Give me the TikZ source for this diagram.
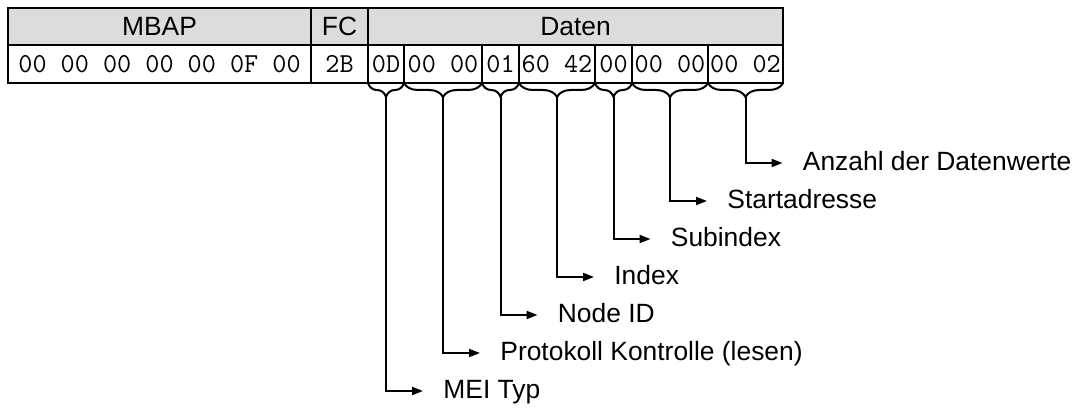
\documentclass[tikz,border=0pt]{standalone}
\usepackage{fontspec}
\setmainfont{Liberation Sans}
\usepackage{xcolor}
\definecolor{kopfgrau}{RGB}{220,220,220}
\usetikzlibrary{positioning, arrows.meta, decorations.pathreplacing}

\begin{document}
\begin{tikzpicture}[
    x=0.5pt, y=-0.5pt,
    node distance=0pt,
    feld/.style={
      rectangle, draw, line width=1pt,
      outer sep=0pt, inner sep=0pt,
      minimum height=18.75pt
    },
    kopf/.style={feld, fill=kopfgrau, font=\fontsize{13.2}{15}\selectfont},
    hex/.style={feld, font=\ttfamily\fontsize{13.7}{15}\selectfont},
    klammer/.style={decorate, decoration={brace, amplitude=7pt}, line width=1pt},
    arrow/.style={-{Triangle[length=5.5pt, width=4pt]}, line width=1pt, shorten >=10pt},
    lbl/.style={anchor=west, inner sep=0pt, text height=0.72em, text depth=0pt,
      font=\fontsize{13.2}{15}\selectfont}
  ]
  \useasboundingbox (0,0) rectangle (1080,410);

  % Kopfzeile
  \node[kopf, minimum width=151.5pt, anchor=north west] (mbap) at (8,8) {MBAP};
  \node[kopf, minimum width=28.5pt, right=of mbap]  (fc)    {FC};
  \node[kopf, minimum width=207.5pt, right=of fc]   (daten) {Daten};

  % Datenzeile
  \node[hex, minimum width=151.5pt, below=of mbap] (h0) {00 00 00 00 00 0F 00};
  \node[hex, minimum width=28.5pt, right=of h0] (h1) {2B};
  \node[hex, minimum width=18pt,   right=of h1] (d0) {0D};
  \node[hex, minimum width=39pt,   right=of d0] (d1) {00 00};
  \node[hex, minimum width=18.5pt, right=of d1] (d2) {01};
  \node[hex, minimum width=38pt,   right=of d2] (d3) {60 42};
  \node[hex, minimum width=18.5pt, right=of d3] (d4) {00};
  \node[hex, minimum width=38pt,   right=of d4] (d5) {00 00};
  \node[hex, minimum width=37.5pt, right=of d5] (d6) {00 02};

  % Klammern
  \draw[klammer] (d0.south east) -- (d0.south west);
  \draw[klammer] (d1.south east) -- (d1.south west);
  \draw[klammer] (d2.south east) -- (d2.south west);
  \draw[klammer] (d3.south east) -- (d3.south west);
  \draw[klammer] (d4.south east) -- (d4.south west);
  \draw[klammer] (d5.south east) -- (d5.south west);
  \draw[klammer] (d6.south east) -- (d6.south west);

  \coordinate (s0) at ([yshift=-7pt]d0.south);
  \coordinate (s1) at ([yshift=-7pt]d1.south);
  \coordinate (s2) at ([yshift=-7pt]d2.south);
  \coordinate (s3) at ([yshift=-7pt]d3.south);
  \coordinate (s4) at ([yshift=-7pt]d4.south);
  \coordinate (s5) at ([yshift=-7pt]d5.south);
  \coordinate (s6) at ([yshift=-7pt]d6.south);

  % Beschriftungen
  \node[lbl] (mei)     at ([shift={(57,294)}]s0) {MEI Typ};
  \node[lbl] (proto)   at ([shift={(57,256)}]s1) {Protokoll Kontrolle (lesen)};
  \node[lbl] (nodeid)  at ([shift={(57,218)}]s2) {Node ID};
  \node[lbl] (index)   at ([shift={(57,180)}]s3) {Index};
  \node[lbl] (subidx)  at ([shift={(57,142)}]s4) {Subindex};
  \node[lbl] (start)   at ([shift={(57,104)}]s5) {Startadresse};
  \node[lbl] (anzahl)  at ([shift={(57,66)}]s6)  {Anzahl der Datenwerte};

  % Pfeile
  \draw[arrow] (s0) |- (mei);
  \draw[arrow] (s1) |- (proto);
  \draw[arrow] (s2) |- (nodeid);
  \draw[arrow] (s3) |- (index);
  \draw[arrow] (s4) |- (subidx);
  \draw[arrow] (s5) |- (start);
  \draw[arrow] (s6) |- (anzahl);

\end{tikzpicture}
\end{document}
